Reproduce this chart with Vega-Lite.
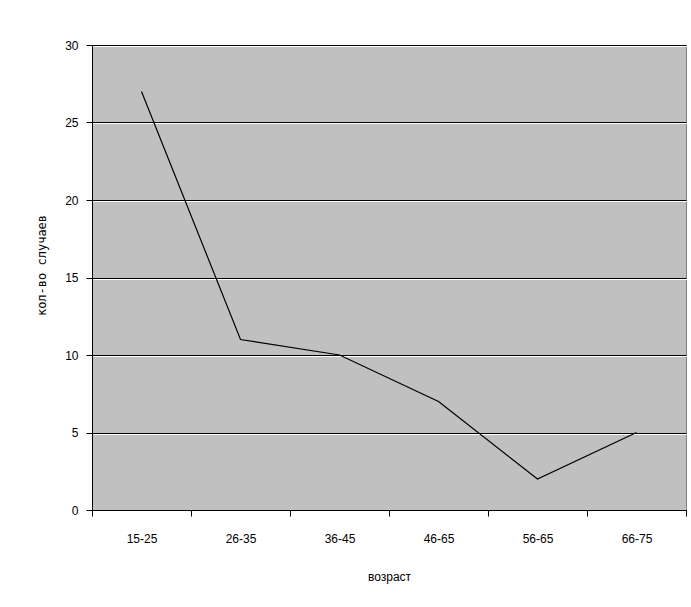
{
  "$schema": "https://vega.github.io/schema/vega-lite/v6.json",
  "width": 594,
  "height": 465,
  "autosize": "none",
  "padding": {"left": 92, "top": 45, "right": 5, "bottom": 97},
  "background": "white",
  "config": {
    "view": {"fill": "#C0C0C0", "stroke": "#808080", "strokeWidth": 1},
    "font": "Liberation Sans"
  },
  "data": {
    "values": [
      {"age": "15-25", "count": 27},
      {"age": "26-35", "count": 11},
      {"age": "36-45", "count": 10},
      {"age": "46-65", "count": 7},
      {"age": "56-65", "count": 2},
      {"age": "66-75", "count": 5}
    ]
  },
  "encoding": {
    "x": {"field": "age", "type": "ordinal", "sort": null,
      "scale": {"type": "band", "paddingInner": 0, "paddingOuter": 0},
      "axis": {"title": "возраст", "labelAngle": 0, "tickBand": "extent", "domainColor": "#000000", "tickColor": "#000000", "tickSize": 6, "labelPadding": 17, "labelFontSize": 12, "labelColor": "#000000", "titleFontSize": 12, "titleFontWeight": "normal", "titleColor": "#000000", "titlePadding": 27, "grid": false}}
  },
  "layer": [
    {
      "mark": {"type": "line", "color": "#000000", "strokeWidth": 1.2, "opacity": 0},
      "encoding": {
        "y": {"field": "count", "type": "quantitative", "scale": {"domain": [0, 30]},
          "axis": {"orient": "right", "values": [5, 10, 15, 20, 25, 30], "grid": true, "gridColor": "#FFFFFF", "gridWidth": 1, "translate": 1.5, "labels": false, "ticks": false, "domain": false, "title": null}}
      }
    },
    {
      "mark": {"type": "line", "color": "#000000", "strokeWidth": 1.2},
      "encoding": {
        "y": {"field": "count", "type": "quantitative", "scale": {"domain": [0, 30]},
          "axis": {"title": "кол-во случаев", "values": [0, 5, 10, 15, 20, 25, 30], "grid": true, "gridColor": "#000000", "gridWidth": 1, "domainColor": "#000000", "tickColor": "#000000", "tickSize": 6, "labelPadding": 8, "labelFontSize": 12, "labelColor": "#000000", "titleFont": "DejaVu Sans Mono", "titleFontSize": 12, "titleFontWeight": "normal", "titleColor": "#000000", "titlePadding": 16, "titleY": 220}}
      }
    }
  ],
  "resolve": {"axis": {"y": "independent"}}
}
